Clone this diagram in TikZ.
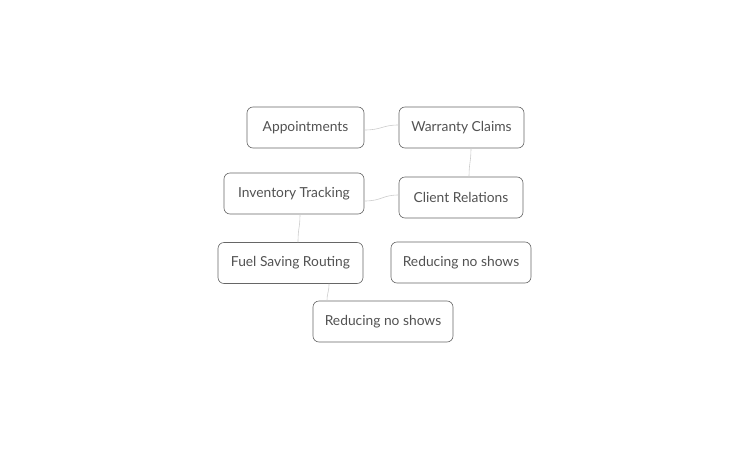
\documentclass[tikz,border=0pt]{standalone}
\usepackage{fontspec}
\setmainfont{Lato}
\usetikzlibrary{positioning}

\begin{document}
\begin{tikzpicture}[
  x=1pt,y=-1pt,
  line cap=round,
  line join=round,
  every node/.style={font=\fontsize{13.8}{16}\selectfont,text=black!68},
  topic/.style={draw=black!60,line width=.6pt,rounded corners=6pt,
    minimum height=41pt,inner xsep=0pt,fill=white},
  link/.style={black!20,line width=.6pt}
]
% Bounding box.
\useasboundingbox (0,0) rectangle (750,450);
% Topic boxes.
\node[topic,minimum width=117pt] (appointments) at (305.5,127.5) {Appointments};
\node[topic,minimum width=125pt] (warranty) at (461.5,127.5) {Warranty Claims};
\node[topic,minimum width=140pt] (inventory) at (294,193.5) {Inventory Tracking};
\node[topic,minimum width=124pt] (client) at (461,197.5) {Client Relations};
\node[topic,minimum width=145pt] (fuel) at (290.5,263) {Fuel Saving Routing};
\node[topic,minimum width=140pt] (noshowsright) at (461,262.5) {Reducing no shows};
\node[topic,minimum width=140pt] (noshowsbottom) at (383,321.5) {Reducing no shows};

% Links between topics.
\draw[link] (appointments.east |- 0,130) .. controls (382,130) and (382,125) .. (warranty.west |- 0,125);
\draw[link] (471,148) .. controls (471,162) and (469,163) .. (469,177);
\draw[link] (client.west |- 0,195) .. controls (382,195) and (382,201) .. (inventory.east |- 0,201);
\draw[link] (300,214) .. controls (300,228) and (298,228) .. (298,242);
\draw[link] (329,284) .. controls (329,292) and (327,293) .. (327,301);
\end{tikzpicture}
\end{document}
